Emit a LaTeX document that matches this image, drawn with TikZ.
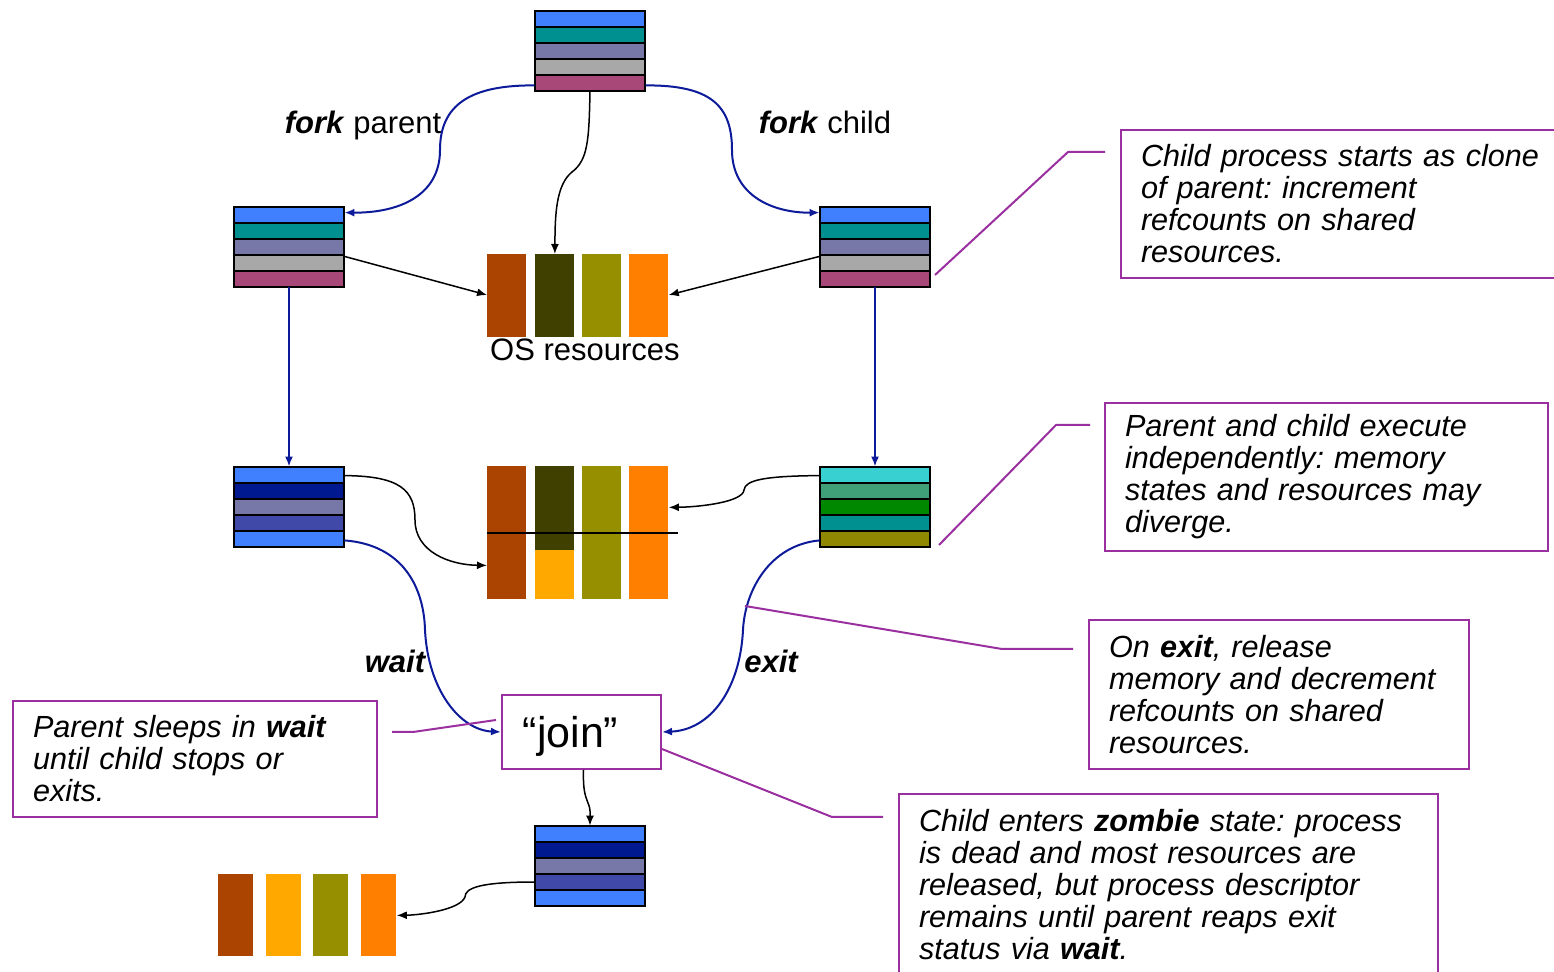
\documentclass[tikz,border=0pt]{standalone}
\usepackage{fontspec}
\newfontfamily\arial{Liberation Sans}
\usetikzlibrary{arrows.meta}
\definecolor{sblue}{HTML}{4080FF}
\definecolor{steal}{HTML}{009090}
\definecolor{sslate}{HTML}{7878A8}
\definecolor{sgray}{HTML}{A8A8A8}
\definecolor{smauve}{HTML}{A84878}
\definecolor{snavy}{HTML}{001890}
\definecolor{sindigo}{HTML}{4048A8}
\definecolor{scyan}{HTML}{38D0D0}
\definecolor{ssea}{HTML}{40A078}
\definecolor{sgreen}{HTML}{008800}
\definecolor{solive}{HTML}{908800}
\definecolor{rbrown}{HTML}{AA4400}
\definecolor{rdark}{HTML}{404000}
\definecolor{rolive}{HTML}{969000}
\definecolor{rorange}{HTML}{FF7F00}
\definecolor{ryellow}{HTML}{FFA800}
\definecolor{arrblue}{HTML}{0D1A99}
\definecolor{cpurple}{HTML}{9A30A0}
\newcommand\procstack[8]{%
  \foreach \c [count=\i from 0] in {#4,#5,#6,#7,#8}
    {\draw[stackrow,fill=\c] (#2,#3+16*\i) rectangle ++(110,16);}
  \node[inner sep=0pt,minimum width=55pt,minimum height=40pt] (#1) at (#2+55,#3+40) {};
}
\frenchspacing
\begin{document}
\begin{tikzpicture}[x=0.5pt,y=-0.5pt,
  stackrow/.style={draw=black,line width=1.2pt},
  resbar/.style={inner sep=0pt,draw=none,anchor=north west,minimum width=19.5pt},
  smallbar/.style={inner sep=0pt,draw=none,anchor=north west,minimum width=17.5pt,minimum height=41pt},
  blueconn/.style={draw=arrblue,line width=1pt,-{Latex[length=5pt,width=4pt]}},
  blackconn/.style={draw=black,line width=0.75pt,-{Latex[length=5pt,width=4pt]}},
  callline/.style={draw=cpurple,line width=1pt},
  callout/.style={draw=cpurple,line width=1pt,anchor=north west,align=left,inner xsep=10pt,inner ysep=0pt,
    font=\arial\itshape\frenchspacing\fontsize{15.3}{16}\selectfont},
  lbl/.style={inner sep=0pt,font=\arial\fontsize{15.5}{16}\selectfont},
]
\clip (0,0) rectangle (1554,972);
\fill[white] (0,0) rectangle (1554,972);

% process stacks
\procstack{ts}{535}{11}{sblue}{steal}{sslate}{sgray}{smauve}
\procstack{ls1}{234}{207}{sblue}{steal}{sslate}{sgray}{smauve}
\procstack{rs1}{820}{207}{sblue}{steal}{sslate}{sgray}{smauve}
\procstack{ls2}{234}{467}{sblue}{snavy}{sslate}{sindigo}{sblue}
\procstack{rs2}{820}{467}{scyan}{ssea}{sgreen}{steal}{solive}
\procstack{bs}{535}{826}{sblue}{snavy}{sslate}{sindigo}{sblue}

% OS resources (top)
\node[resbar,fill=rbrown,minimum height=41.5pt] (oa) at (487,254) {};
\node[resbar,fill=rdark,minimum height=41.5pt] (ob) at (535,254) {};
\node[resbar,fill=rolive,minimum height=41.5pt] (oc) at (582,254) {};
\node[resbar,fill=rorange,minimum height=41.5pt] (od) at (629,254) {};
\node[lbl] (oslbl) at (585,350) {OS resources};

% resources (middle)
\node[resbar,fill=rbrown,minimum height=66.5pt] (ma) at (487,466) {};
\node[resbar,fill=rdark,minimum height=42pt] (mb) at (535,466) {};
\node[resbar,fill=ryellow,minimum height=24.5pt] (mbl) at (535,550) {};
\node[resbar,fill=rolive,minimum height=66.5pt] (mc) at (582,466) {};
\node[resbar,fill=rorange,minimum height=66.5pt] (md) at (629,466) {};
\draw[black,line width=0.75pt] (ma.west) -- ([xshift=4.5pt]md.east);

% resources (bottom)
\node[smallbar,fill=rbrown] (ba) at (218,874) {};
\node[smallbar,fill=ryellow] (bb) at (266,874) {};
\node[smallbar,fill=rolive] (bc) at (313,874) {};
\node[smallbar,fill=rorange] (bd) at (361,874) {};

% join
\node[draw=cpurple,line width=1pt,minimum width=79.5pt,minimum height=37pt,inner sep=0pt,
  font=\arial\fontsize{21.5}{22}\selectfont] (join) at (581.5,732)
  {\raisebox{-8pt}[0pt][0pt]{“join”}\hspace*{11pt}};

% connectors
\draw[blueconn] ([yshift=3pt]ts.south west) .. controls (470,85) and (440,105) .. (440,150)
  .. controls (440,195) and (400,213) .. ([yshift=-3pt]ls1.north east);
\draw[blueconn] ([yshift=3pt]ts.south east) .. controls (710,85) and (732,105) .. (732,150)
  .. controls (732,195) and (772,213) .. ([yshift=-3pt]rs1.north west);
\draw[blackconn] (ts.south) .. controls (589,140) and (588,160) .. (572,172)
  .. controls (556,185) and (555,215) .. (ob.north);
\draw[blackconn] ([yshift=15.5pt]ls1.south east) -- ([yshift=-20.5pt]oa.north west);
\draw[blackconn] ([yshift=15.5pt]rs1.south west) -- ([yshift=-20.5pt]od.north east);
\draw[blueconn] (ls1.south) -- (ls2.north);
\draw[blueconn] (rs1.south) -- (rs2.north);
\draw[blackconn] ([yshift=-4.5pt]ls2.north east) .. controls (400,476) and (415,490) .. (415,520)
  .. controls (415,552) and (450,565) .. ([yshift=-16.25pt]ma.west);
\draw[blackconn] ([yshift=-4.5pt]rs2.north west) .. controls (765,476) and (745,480) .. (744,490)
  .. controls (743,502) and (700,507) .. ([yshift=12.75pt]md.east);
\draw[blueconn] ([yshift=3.5pt]ls2.south east) .. controls (405,545) and (424,590) .. (425,630)
  .. controls (428,690) and (460,730) .. (join.west);
\draw[blueconn] ([yshift=3.5pt]rs2.south west) .. controls (770,545) and (745,590) .. (743,630)
  .. controls (740,690) and (710,730) .. (join.east);
\draw[blackconn] ([xshift=1pt]join.south) .. controls (583,790) and (585,795) .. (588,803)
  .. controls (591,810) and (590,815) .. (bs.north);
\draw[blackconn] ([yshift=-8pt]bs.west) .. controls (480,882) and (465,888) .. (465,897)
  .. controls (460,910) and (420,915) .. (bd.east);

% connector labels
\node[lbl] (lfp) at (363,125) {\textbf{\textit{fork}} parent};
\node[lbl] (lfc) at (825,122) {\textbf{\textit{fork}} child};
\node[lbl,font=\arial\bfseries\itshape\fontsize{15.5}{16}\selectfont] (lwait) at (395,661) {wait};
\node[lbl,font=\arial\bfseries\itshape\fontsize{15.5}{16}\selectfont] (lexit) at (771,661) {exit};

% callouts
\node[callout,text width=211pt,minimum height=74pt] (co1) at (1120,129)
  {Child process starts as clone\\of parent: increment\\refcounts on shared\\resources.};
\node[callout,text width=201.5pt,minimum height=74pt] (co2) at (1104,402)
  {Parent and child execute\\independently: memory\\states and resources may\\diverge.};
\node[callout,text width=170pt,minimum height=74.5pt] (co3) at (1088,619)
  {On \textbf{exit}, release\\memory and decrement\\refcounts on shared\\resources.};
\node[callout,text width=162pt,minimum height=58pt] (co4) at (12,700)
  {Parent sleeps in \textbf{wait}\\until child stops or\\exits.};
\node[callout,text width=249.5pt,minimum height=91pt] (co5) at (898,793)
  {Child enters \textbf{zombie} state: process\\is dead and most resources are\\released, but process descriptor\\remains until parent reaps exit\\status via \textbf{wait}.};

% callout leader lines
\coordinate (k1a) at (935,275); \coordinate (k1b) at (1068,152); \coordinate (k1c) at (1105,152);
\coordinate (k2a) at (939,545); \coordinate (k2b) at (1056,425); \coordinate (k2c) at (1090,425);
\coordinate (k3a) at (745,606); \coordinate (k3b) at (1002,649); \coordinate (k3c) at (1073,649);
\coordinate (k4a) at (392,732); \coordinate (k4b) at (413,732); \coordinate (k4c) at (496,720);
\coordinate (k5b) at (832,817); \coordinate (k5c) at (883,817);
\draw[callline] (k1a) -- (k1b) -- (k1c);
\draw[callline] (k2a) -- (k2b) -- (k2c);
\draw[callline] (k3a) -- (k3b) -- (k3c);
\draw[callline] (k4a) -- (k4b) -- (k4c);
\draw[callline] ([yshift=-8.5pt]join.east) -- (k5b) -- (k5c);
\end{tikzpicture}
\end{document}
